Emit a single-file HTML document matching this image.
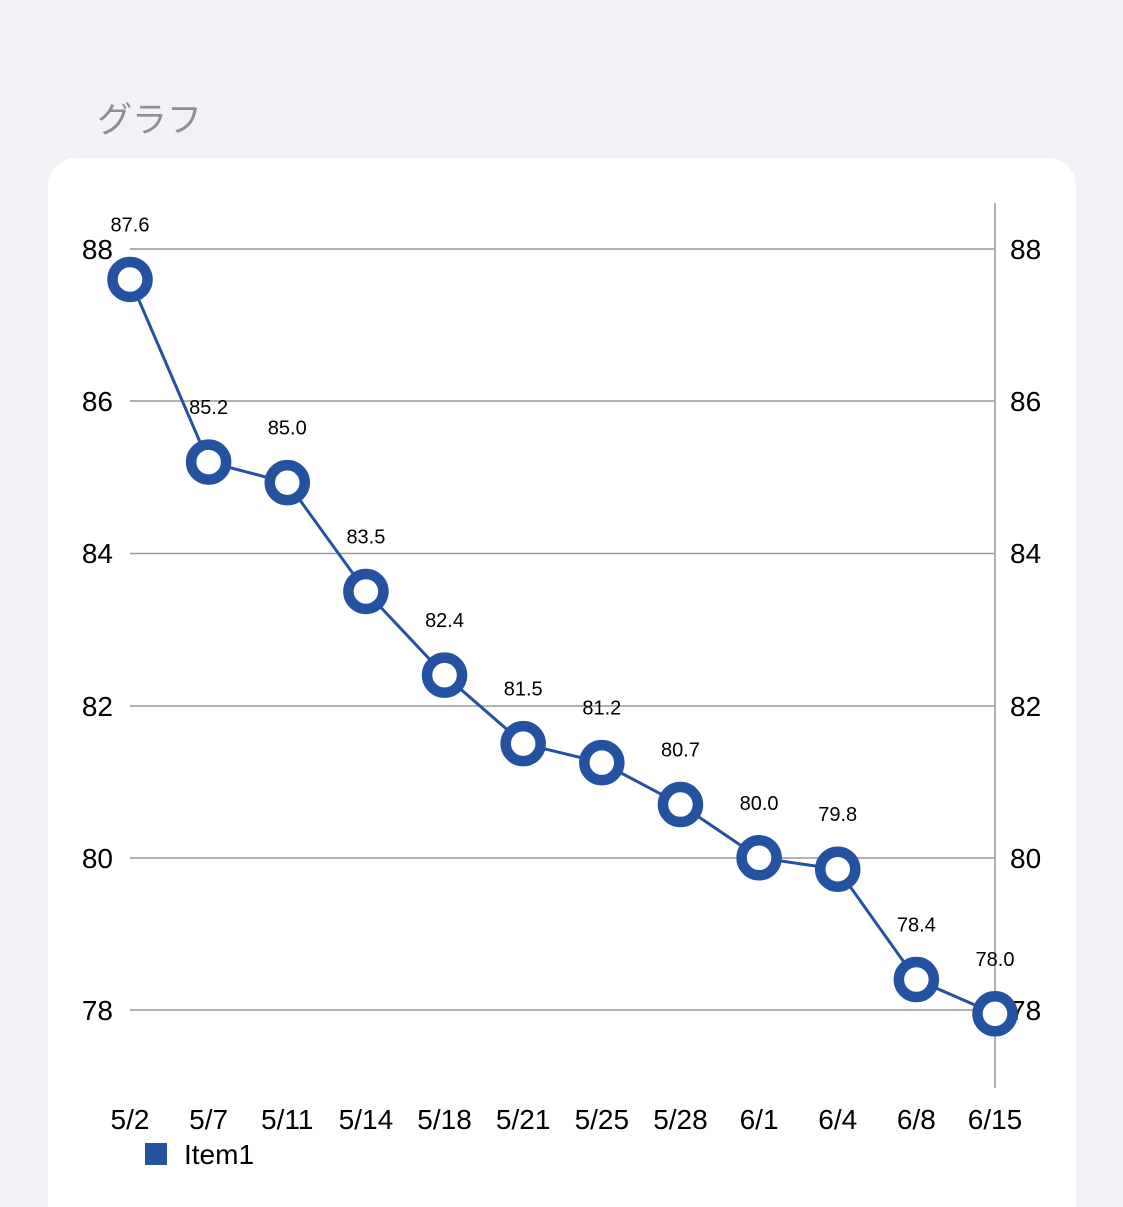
<!DOCTYPE html><html><head><meta charset="utf-8"><style>
html,body{margin:0;width:1123px;height:1207px;overflow:hidden}
body{background:#f1f1f6;font-family:"Liberation Sans","Noto Sans CJK JP",sans-serif;position:relative}
.t{position:absolute;left:97px;top:92px;font-size:35px;color:#8e8e93}
.card{position:absolute;left:48px;top:158px;width:1028px;height:1049px;background:#fff;border-radius:28px 28px 0 0}
svg{position:absolute;left:0;top:0}
</style></head><body>
<div class="t">グラフ</div><div class="card"></div>
<svg width="1123" height="1207" font-family="Liberation Sans, sans-serif">
<g stroke="#999" stroke-width="1.5">
<line x1="130" x2="995" y1="249" y2="249"/><line x1="130" x2="995" y1="401" y2="401"/><line x1="130" x2="995" y1="553.5" y2="553.5"/><line x1="130" x2="995" y1="706" y2="706"/><line x1="130" x2="995" y1="858" y2="858"/><line x1="130" x2="995" y1="1010" y2="1010"/>
<line x1="995" x2="995" y1="203" y2="1088"/></g>
<g font-size="28" fill="#000">
<text x="113" y="259" text-anchor="end">88</text><text x="113" y="411" text-anchor="end">86</text><text x="113" y="563" text-anchor="end">84</text><text x="113" y="716" text-anchor="end">82</text><text x="113" y="868" text-anchor="end">80</text><text x="113" y="1020" text-anchor="end">78</text>
<text x="1010" y="259">88</text><text x="1010" y="411">86</text><text x="1010" y="563">84</text><text x="1010" y="716">82</text><text x="1010" y="868">80</text><text x="1010" y="1020">78</text>
</g>
<g font-size="28" text-anchor="middle" id="xl"></g>
<polyline id="ln" fill="none" stroke="#2451a0" stroke-width="3"/>
<g id="pts"></g>
<rect x="145" y="1143" width="22" height="22" fill="#2451a0"/>
<text x="184" y="1164" font-size="28">Item1</text>
</svg>
<script>
var v=[87.6,85.2,84.93,83.5,82.4,81.5,81.25,80.7,80.0,79.85,78.4,77.95],l=["5/2","5/7","5/11","5/14","5/18","5/21","5/25","5/28","6/1","6/4","6/8","6/15"];
var lb=["87.6","85.2","85.0","83.5","82.4","81.5","81.2","80.7","80.0","79.8","78.4","78.0"];
var ns="http://www.w3.org/2000/svg",p=[],g=document.getElementById("pts"),xl=document.getElementById("xl");
v.forEach(function(d,i){var x=130+i*865/11,y=249+(88-d)*76.1;p.push(x+","+y);
var c=document.createElementNS(ns,"circle");c.setAttribute("cx",x);c.setAttribute("cy",y);c.setAttribute("r",17.5);c.setAttribute("fill","#fff");c.setAttribute("stroke","#2451a0");c.setAttribute("stroke-width",10.5);g.appendChild(c);
var t=document.createElementNS(ns,"text");t.setAttribute("x",x);t.setAttribute("y",y-48);t.setAttribute("font-size",20);t.setAttribute("text-anchor","middle");t.textContent=lb[i];g.appendChild(t);
var u=document.createElementNS(ns,"text");u.setAttribute("x",x);u.setAttribute("y",1129);u.textContent=l[i];xl.appendChild(u);});
document.getElementById("ln").setAttribute("points",p.join(" "));
</script>
</body></html>
